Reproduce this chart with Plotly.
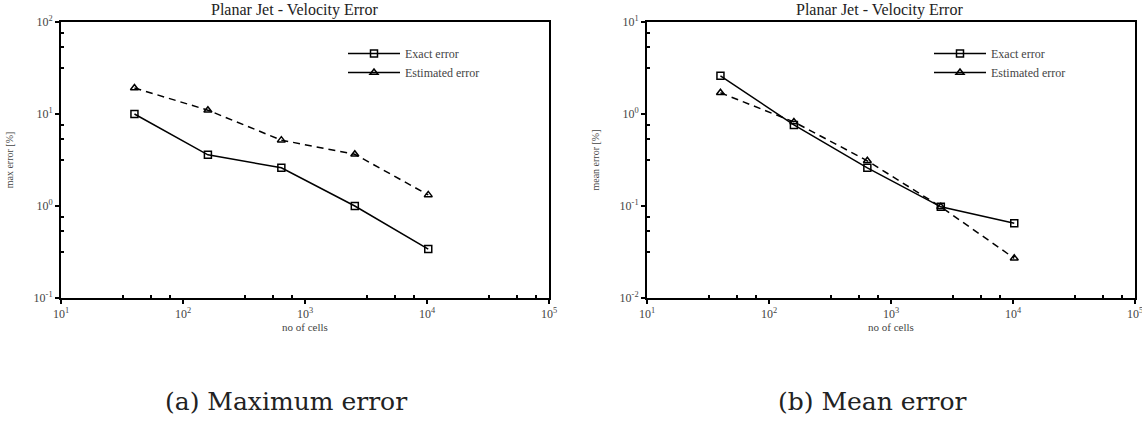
import plotly.graph_objects as go

# ---- data ----
cells = [40, 160, 640, 2560, 10240]
max_exact = [10.0, 3.6, 2.6, 1.0, 0.34]
max_estimated = [19.2, 11.0, 5.2, 3.65, 1.32]
mean_exact = [2.6, 0.76, 0.26, 0.098, 0.065]
mean_estimated = [1.7, 0.82, 0.31, 0.098, 0.027]

x_tickvals = [10, 100, 1000, 10000, 100000]
x_ticktext = ["10<sup>1</sup>", "10<sup>2</sup>", "10<sup>3</sup>", "10<sup>4</sup>", "10<sup>5</sup>"]
y1_tickvals = [0.1, 1, 10, 100]
y1_ticktext = ["10<sup>-1</sup>", "10<sup>0</sup>", "10<sup>1</sup>", "10<sup>2</sup>"]
y2_tickvals = [0.01, 0.1, 1, 10]
y2_ticktext = ["10<sup>-2</sup>", "10<sup>-1</sup>", "10<sup>0</sup>", "10<sup>1</sup>"]

title = "Planar Jet - Velocity Error"
captions = ["(a) Maximum error", "(b) Mean error"]

FONT = "Times New Roman, Liberation Serif, serif"
CAPFONT = "DejaVu Serif, serif"
W, H = 1142, 431

fig = go.Figure()

def add_panel(xa, ya, exact, est, legend):
    fig.add_trace(go.Scatter(x=cells, y=exact, xaxis=xa, yaxis=ya, mode="lines+markers",
                             line=dict(color="black", width=1.5),
                             marker=dict(symbol="square-open", size=7, color="black", line=dict(width=1.5)),
                             showlegend=False))
    fig.add_trace(go.Scatter(x=cells, y=est, xaxis=xa, yaxis=ya, mode="lines+markers",
                             line=dict(color="black", width=1.5, dash="7px,5px"),
                             marker=dict(symbol="triangle-up-open", size=7, color="black", line=dict(width=1.5)),
                             showlegend=False))
    # legend entries (solid lines as in the reference legend)
    fig.add_trace(go.Scatter(x=[None], y=[None], xaxis=xa, yaxis=ya, mode="lines+markers",
                             name="Exact error", legend=legend,
                             line=dict(color="black", width=1.5),
                             marker=dict(symbol="square-open", size=7, color="black", line=dict(width=1.5))))
    fig.add_trace(go.Scatter(x=[None], y=[None], xaxis=xa, yaxis=ya, mode="lines+markers",
                             name="Estimated error", legend=legend,
                             line=dict(color="black", width=1.5),
                             marker=dict(symbol="triangle-up-open", size=7, color="black", line=dict(width=1.5))))

add_panel("x", "y", max_exact, max_estimated, "legend")
add_panel("x2", "y2", mean_exact, mean_estimated, "legend2")

ytop = 1 - 22 / H
ybot = 1 - 298 / H
xd1 = [61 / W, 549 / W]
xd2 = [647 / W, 1135 / W]

def xaxis(domain, anchor):
    return dict(type="log", domain=domain, anchor=anchor, range=[1, 5], automargin=False,
                ticklabeloverflow="allow",
                tickmode="array", tickvals=x_tickvals, ticktext=x_ticktext,
                ticks="outside", ticklen=4, tickwidth=1.5, tickcolor="black",
                minor=dict(tickmode="array", tickvals=[32, 55, 78, 320, 550, 780, 3200, 5500, 7800, 32000, 55000, 78000],
                           ticks="inside", ticklen=3, tickwidth=1.5, tickcolor="black"),
                showline=True, linewidth=2, linecolor="black", mirror=True,
                showgrid=False, zeroline=False,
                tickfont=dict(family=FONT, size=12, color="#444"),
                title=dict(text="no of cells", font=dict(family=FONT, size=11, color="#444"), standoff=2))

def yaxis(domain, anchor, rng, tv, tt, label):
    lo, hi = rng
    mv = []
    for e in range(lo, hi):
        for m in (3.2, 5.3, 7.6):
            mv.append(m * 10 ** e)
    return dict(type="log", domain=domain, anchor=anchor, range=[lo, hi], automargin=False,
                tickmode="array", tickvals=tv, ticktext=tt,
                ticks="outside", ticklen=4, tickwidth=1.5, tickcolor="black",
                minor=dict(tickmode="array", tickvals=mv, ticks="inside", ticklen=3, tickwidth=1.5, tickcolor="black"),
                showline=True, linewidth=2, linecolor="black", mirror=True,
                showgrid=False, zeroline=False,
                tickfont=dict(family=FONT, size=12, color="#444"),
                title=dict(text=label, font=dict(family=FONT, size=10, color="#444"), standoff=18))

annotations = [
    dict(text=title, x=294 / W, y=1, xref="paper", yref="paper", showarrow=False,
         font=dict(family=FONT, size=16, color="#222"), xanchor="center", yanchor="top", borderpad=0),
    dict(text=title, x=879 / W, y=1, xref="paper", yref="paper", showarrow=False,
         font=dict(family=FONT, size=16, color="#222"), xanchor="center", yanchor="top", borderpad=0),
    dict(text=captions[0], x=286 / W, y=1 - 401 / H, xref="paper", yref="paper", showarrow=False,
         font=dict(family=CAPFONT, size=25, color="#222"), xanchor="center", yanchor="middle"),
    dict(text=captions[1], x=872 / W, y=1 - 401 / H, xref="paper", yref="paper", showarrow=False,
         font=dict(family=CAPFONT, size=25, color="#222"), xanchor="center", yanchor="middle"),
]

legend_style = dict(font=dict(family=FONT, size=12, color="#444"), bgcolor="rgba(0,0,0,0)",
                    xanchor="left", yanchor="top", tracegroupgap=0, itemwidth=52)

fig.update_layout(
    template="none",
    width=W, height=H, margin=dict(l=0, r=0, t=0, b=0, autoexpand=False),
    paper_bgcolor="white", plot_bgcolor="white",
    xaxis=xaxis(xd1, "y"),
    yaxis=yaxis([ybot, ytop], "x", (-1, 2), y1_tickvals, y1_ticktext, "max error [%]"),
    xaxis2=xaxis(xd2, "y2"),
    yaxis2=yaxis([ybot, ytop], "x2", (-2, 1), y2_tickvals, y2_ticktext, "mean error [%]"),
    legend=dict(x=343 / W, y=1 - 39 / H, **legend_style),
    legend2=dict(x=929 / W, y=1 - 39 / H, **legend_style),
    annotations=annotations,
)

fig.write_html("out.html")
